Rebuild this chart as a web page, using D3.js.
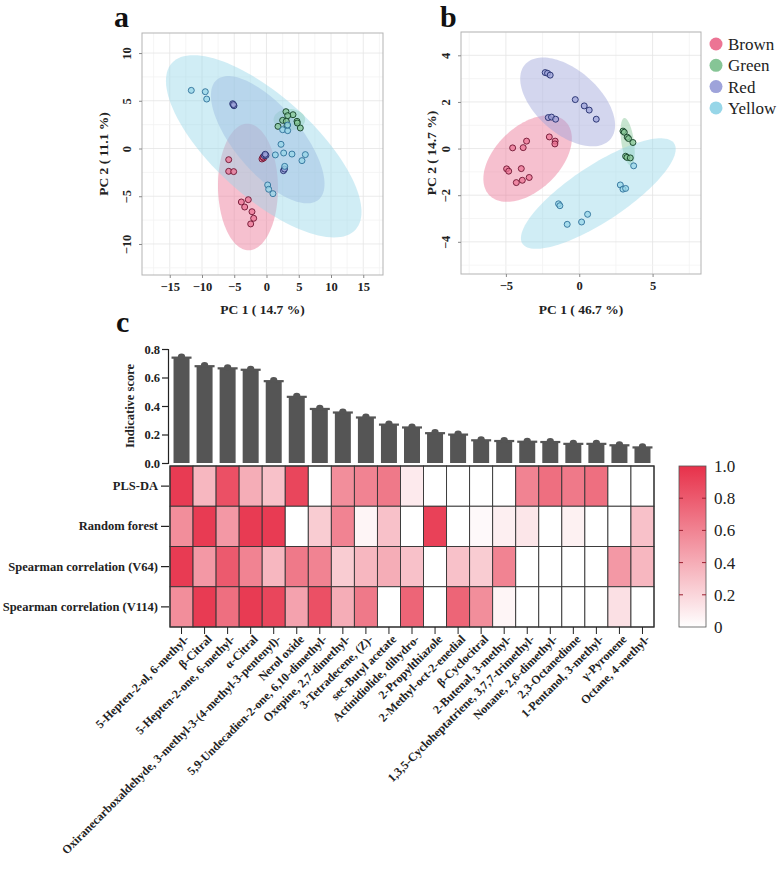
<!DOCTYPE html>
<html>
<head>
<meta charset="utf-8">
<script src="https://d3js.org/d3.v7.min.js"></script>
<style>
  body { margin: 0; background: #fff; }
  svg text { font-family: "Liberation Serif", "DejaVu Serif", serif; }
</style>
</head>
<body>
<div id="chart"></div>
<script>
// ---- data ----
const groups = ["Brown", "Green", "Red", "Yellow"];
const groupFill = ["#ec7494", "#86c596", "#9ea3da", "#97d6e8"];
const groupStroke = ["#6e1330", "#103d22", "#1f2a6b", "#2c6f98"];

// panel a: PCA scores [PC1, PC2]
const aBrown = [[-5.86,-1.17],[-5.86,-2.39],[-5.09,-2.42],[-3.9,-5.6],[-2.82,-5.36],[-3.38,-6.13],[-2.25,-6.62],[-1.99,-7.31],[-2.45,-7.9],[-0.7,-1.1],[-0.44,-1.0],[-0.55,-0.9]];
const aGreen = [[3.02,3.86],[4.11,3.54],[3.28,3.44],[2.5,2.95],[3.07,2.85],[4.73,2.85],[4.78,2.67],[5.24,2.15],[1.78,2.32],[3.18,2.4]];
const aRed = [[-5.24,4.69],[-5.04,4.48],[-5.12,4.6],[-0.34,-0.75],[-0.08,-0.72],[-0.2,-0.6],[2.63,-2.32],[2.79,-2.15]];
const aYellow = [[-11.66,6.09],[-9.49,5.95],[-9.27,5.18],[2.25,0.44],[2.66,-0.47],[3.95,-0.58],[6.02,-0.64],[5.5,-1.27],[1.37,-0.67],[2.82,-1.87],[0.18,-3.82],[0.34,-4.27],[1.0,-4.73],[2.5,1.97],[3.28,1.87],[3.28,2.46]];
// ellipse: centre, two conjugate semi-axes (data units)
const aEllipses = [
  {c: [-2.87,-4.03], u: [0.1,-6.63], v: [4.65,0]},
  {c: [3.54,3.02], u: [2.45,0], v: [0,-1.12]},
  {c: [0.19,0.92], u: [7.89,-6.28], v: [-3.91,-2.24]},
  {c: [-0.43,0.23], u: [14.23,-8.73], v: [-5.22,-3.87]}
];

// panel b
const bBrown = [[-3.59,0.32],[-4.54,0.03],[-3.82,0.04],[-2.04,0.5],[-1.64,0.32],[-1.66,0.2],[-4.95,-0.87],[-4.81,-0.97],[-3.95,-0.86],[-4.29,-1.46],[-3.88,-1.36],[-3.41,-1.24]];
const bGreen = [[2.98,0.75],[3.07,0.7],[3.27,0.49],[3.36,0.43],[3.66,0.26],[3.16,-0.33],[3.25,-0.38],[3.48,-0.4]];
const bRed = [[-2.32,3.26],[-2.16,3.23],[-1.98,3.15],[-0.27,2.1],[0.34,1.83],[0.68,1.65],[1.16,1.26],[-2.11,1.33],[-1.89,1.35],[-1.61,1.26]];
const bYellow = [[3.71,-0.74],[2.8,-1.56],[2.98,-1.74],[3.16,-1.71],[-1.41,-2.37],[-1.32,-2.45],[0.57,-2.82],[0.16,-3.15],[-0.82,-3.25]];
const bEllipses = [
  {c: [-3.52,-0.43], u: [2.61,1.57], v: [1.51,-0.99]},
  {c: [3.3,0.29], u: [0.23,-1.02], v: [0.425,0.038]},
  {c: [-0.79,2.0], u: [2.9,-1.61], v: [-1.43,-1.02]},
  {c: [1.3,-1.93], u: [5.17,2.15], v: [1.05,-1.0]}
];

// panel c
const compounds = ["5-Hepten-2-ol, 6-methyl-", "β-Citral", "5-Hepten-2-one, 6-methyl-", "α-Citral",
  "Oxiranecarboxaldehyde, 3-methyl-3-(4-methyl-3-pentenyl)-", "Nerol oxide",
  "5,9-Undecadien-2-one, 6,10-dimethyl-", "Oxepine, 2,7-dimethyl-", "3-Tetradecene, (Z)-",
  "sec-Butyl acetate", "Actinidiolide, dihydro-", "2-Propylthiazole", "2-Methyl-oct-2-enedial",
  "β-Cyclocitral", "2-Butenal, 3-methyl-", "1,3,5-Cycloheptatriene, 3,7,7-trimethyl-",
  "Nonane, 2,6-dimethyl-", "2,3-Octanedione", "1-Pentanol, 3-methyl-", "γ-Pyronene", "Octane, 4-methyl-"];
const indicativeScore = [0.74,0.68,0.665,0.655,0.575,0.465,0.38,0.355,0.32,0.27,0.25,0.21,0.2,0.16,0.155,0.15,0.148,0.135,0.135,0.125,0.11];
const methods = ["PLS-DA", "Random forest", "Spearman correlation (V64)", "Spearman correlation (V114)"];
const plsda        = [0.95,0.35,0.85,0.4,0.3,0.9,0,0.55,0.6,0.65,0.1,0,0,0,0,0.6,0.7,0.65,0.7,0,0];
const randomForest = [0.55,0.95,0.5,0.95,0.95,0,0.25,0.6,0.05,0.3,0,0.92,0,0.03,0.08,0.12,0,0.07,0,0,0.3];
const spearmanV64  = [0.95,0.5,0.8,0.6,0.35,0.65,0.6,0.25,0.35,0.4,0.3,0,0.3,0.25,0.6,0,0,0,0,0.5,0.35];
const spearmanV114 = [0.55,0.95,0.7,0.95,0.9,0.45,0.85,0.4,0.65,0,0.75,0,0.75,0.55,0.05,0,0,0,0,0.15,0];
const scoreTicks = [0, 0.2, 0.4, 0.6, 0.8];
const colorTicks = [0, 0.2, 0.4, 0.6, 0.8, 1.0];

// ---- drawing ----
const svg = d3.select("#chart").append("svg")
  .attr("width", 779).attr("height", 876);

function pcaPanel(opt) {
  const x = d3.scaleLinear().domain(opt.xDomain).range(opt.xRange);
  const y = d3.scaleLinear().domain(opt.yDomain).range(opt.yRange);
  const g = svg.append("g");

  // grid
  g.selectAll(".gx").data(opt.xMinor).enter().append("line")
    .attr("x1", d => x(d)).attr("x2", d => x(d))
    .attr("y1", opt.yRange[0]).attr("y2", opt.yRange[1])
    .attr("stroke", d => opt.xTicks.includes(d) ? "#e4e4e4" : "#f3f3f3").attr("stroke-width", 0.8);
  g.selectAll(".gy").data(opt.yMinor).enter().append("line")
    .attr("y1", d => y(d)).attr("y2", d => y(d))
    .attr("x1", opt.xRange[0]).attr("x2", opt.xRange[1])
    .attr("stroke", d => opt.yTicks.includes(d) ? "#e4e4e4" : "#f3f3f3").attr("stroke-width", 0.8);

  // ellipses
  const ts = d3.range(0, 2 * Math.PI, Math.PI / 60);
  const line = d3.line().curve(d3.curveLinearClosed);
  opt.ellipses.forEach((e, i) => {
    const pts = ts.map(t => [
      x(e.c[0] + Math.cos(t) * e.u[0] + Math.sin(t) * e.v[0]),
      y(e.c[1] + Math.cos(t) * e.u[1] + Math.sin(t) * e.v[1])
    ]);
    g.append("path").attr("d", line(pts))
      .attr("fill", groupFill[i]).attr("fill-opacity", 0.45).attr("stroke", "none");
  });

  // points
  opt.points.forEach((pts, i) => {
    g.selectAll(null).data(pts).enter().append("circle")
      .attr("cx", d => x(d[0])).attr("cy", d => y(d[1])).attr("r", 3)
      .attr("fill", groupFill[i]).attr("fill-opacity", 0.75)
      .attr("stroke", groupStroke[i]).attr("stroke-width", 0.9);
  });

  // frame
  g.append("rect")
    .attr("x", opt.xRange[0]).attr("y", opt.yRange[1])
    .attr("width", opt.xRange[1] - opt.xRange[0]).attr("height", opt.yRange[0] - opt.yRange[1])
    .attr("fill", "none").attr("stroke", "#b3b3b3").attr("stroke-width", 1);

  // axes
  const xAxis = g.append("g").attr("transform", `translate(0,${opt.yRange[0]})`)
    .call(d3.axisBottom(x).tickValues(opt.xTicks).tickSize(3).tickPadding(4).tickFormat(d3.format("d")));
  const yAxis = g.append("g").attr("transform", `translate(${opt.xRange[0]},0)`)
    .call(d3.axisLeft(y).tickValues(opt.yTicks).tickSize(3).tickPadding(4).tickFormat(d3.format("d")));
  [xAxis, yAxis].forEach(a => {
    a.select(".domain").remove();
    a.selectAll(".tick line").attr("stroke", "#888");
    a.selectAll("text").attr("font-size", 12.5).attr("font-weight", "bold").attr("fill", "#222")
      .style("font-family", "Liberation Serif");
  });
  yAxis.selectAll(".tick text")
    .attr("transform", function () {
      const yy = d3.select(this.parentNode).attr("transform");
      return "rotate(-90)";
    })
    .attr("x", 0).attr("y", -11).attr("dy", 0).attr("text-anchor", "middle");

  // titles
  const cx = (opt.xRange[0] + opt.xRange[1]) / 2;
  g.append("text").attr("x", cx).attr("y", 314).attr("text-anchor", "middle")
    .attr("font-size", 13.5).attr("font-weight", "bold").attr("fill", "#222").text(opt.xTitle);
  const cy = (opt.yRange[0] + opt.yRange[1]) / 2;
  g.append("text").attr("transform", `translate(${opt.yTitleX},${cy}) rotate(-90)`)
    .attr("text-anchor", "middle").attr("font-size", 13.5).attr("font-weight", "bold")
    .attr("fill", "#222").text(opt.yTitle);
  g.append("text").attr("x", opt.letterX).attr("y", 27)
    .attr("font-size", 30).attr("font-weight", "bold").attr("fill", "#111").text(opt.letter);
}

pcaPanel({
  xDomain: [-19.3, 18.06], xRange: [142, 383],
  yDomain: [-13.25, 12.1], yRange: [275, 33],
  xTicks: [-15, -10, -5, 0, 5, 10, 15], xMinor: d3.range(-17.5, 18, 2.5),
  yTicks: [-10, -5, 0, 5, 10], yMinor: d3.range(-12.5, 12.1, 2.5),
  ellipses: aEllipses, points: [aBrown, aGreen, aRed, aYellow],
  xTitle: "PC 1 ( 14.7 %)", yTitle: "PC 2 ( 11.1 %)", yTitleX: 108,
  letter: "a", letterX: 114
});
pcaPanel({
  xDomain: [-8.06, 8.3], xRange: [461, 701],
  yDomain: [-5.38, 5.0], yRange: [274, 32],
  xTicks: [-5, 0, 5], xMinor: d3.range(-7.5, 8.3, 2.5),
  yTicks: [-4, -2, 0, 2, 4], yMinor: d3.range(-5, 5.01, 1),
  ellipses: bEllipses, points: [bBrown, bGreen, bRed, bYellow],
  xTitle: "PC 1 ( 46.7 %)", yTitle: "PC 2 ( 14.7 %)", yTitleX: 436,
  letter: "b", letterX: 440
});

// legend
const legend = svg.append("g");
groups.forEach((gname, i) => {
  legend.append("circle").attr("cx", 716).attr("cy", 44 + i * 21.3).attr("r", 6.5)
    .attr("fill", groupFill[i]);
  legend.append("text").attr("x", 728).attr("y", 44 + i * 21.3).attr("dy", "0.35em")
    .attr("font-size", 17).attr("fill", "#222").text(gname);
});

// ---- panel c ----
const x = d3.scaleBand().domain(compounds).range([170, 654]);
const yBar = d3.scaleLinear().domain([0, 0.8]).range([463, 349]);
const yRow = d3.scaleBand().domain(methods).range([466, 627]);
const color = d3.scaleLinear().domain([0, 1]).range(["#ffffff", "#e7314a"]);

svg.append("text").attr("x", 116).attr("y", 332)
  .attr("font-size", 30).attr("font-weight", "bold").attr("fill", "#111").text("c");

// bars
const bw = 16;
const bars = svg.append("g");
compounds.forEach((c, i) => {
  const cx = x(c) + x.bandwidth() / 2;
  const top = yBar(indicativeScore[i]);
  bars.append("rect").attr("x", cx - bw / 2).attr("y", top).attr("width", bw)
    .attr("height", yBar(0) - top).attr("fill", "#555");
  bars.append("rect").attr("x", cx - bw / 2 - 2).attr("y", top - 1).attr("width", bw + 4)
    .attr("height", 2.2).attr("fill", "#555");
  bars.append("ellipse").attr("cx", cx).attr("cy", top - 1).attr("rx", 3.6).attr("ry", 3)
    .attr("fill", "#555");
});

const barAxis = svg.append("g").attr("transform", "translate(168,0)")
  .call(d3.axisLeft(yBar).tickValues(scoreTicks).tickSize(6).tickPadding(2).tickFormat(d3.format(".1f")));
barAxis.select(".domain").attr("stroke", "#222").attr("stroke-width", 1.2);
barAxis.selectAll(".tick line").attr("stroke", "#222").attr("stroke-width", 1.2);
barAxis.selectAll("text").attr("font-size", 12.5).attr("font-weight", "bold").attr("fill", "#222")
  .style("font-family", "Liberation Serif");
svg.append("text").attr("transform", "translate(134,406) rotate(-90)")
  .attr("text-anchor", "middle").attr("font-size", 12.5).attr("font-weight", "bold")
  .attr("fill", "#222").text("Indicative score");

// heatmap
const heatRows = [plsda, randomForest, spearmanV64, spearmanV114];
const heat = svg.append("g");
heatRows.forEach((row, r) => {
  heat.selectAll(null).data(row).enter().append("rect")
    .attr("x", (d, i) => x(compounds[i])).attr("y", yRow(methods[r]))
    .attr("width", x.bandwidth()).attr("height", yRow.bandwidth())
    .attr("fill", d => color(d)).attr("stroke", "#333").attr("stroke-width", 0.9);
});
heat.append("rect").attr("x", 170).attr("y", 466).attr("width", 484).attr("height", 161)
  .attr("fill", "none").attr("stroke", "#333").attr("stroke-width", 1.2);

const rowAxis = svg.append("g").attr("transform", "translate(169,0)")
  .call(d3.axisLeft(yRow).tickSize(8).tickPadding(3));
rowAxis.select(".domain").remove();
rowAxis.selectAll(".tick line").attr("stroke", "#222").attr("stroke-width", 1.2);
rowAxis.selectAll("text").attr("font-size", 12.5).attr("font-weight", "bold").attr("fill", "#222")
  .style("font-family", "Liberation Serif");

const colAxis = svg.append("g").attr("transform", "translate(0,627)")
  .call(d3.axisBottom(x).tickSize(7).tickPadding(3));
colAxis.select(".domain").remove();
colAxis.selectAll(".tick line").attr("stroke", "#222").attr("stroke-width", 1);
colAxis.selectAll("text").attr("font-size", 12).attr("font-weight", "bold").attr("fill", "#222")
  .style("font-family", "Liberation Serif")
  .attr("text-anchor", "end").attr("transform", "translate(5,10) rotate(-45)")
  .attr("x", 0).attr("y", 0).attr("dy", "0.35em");

// colour bar
const defs = svg.append("defs");
const grad = defs.append("linearGradient").attr("id", "cbar")
  .attr("x1", 0).attr("y1", 1).attr("x2", 0).attr("y2", 0);
grad.append("stop").attr("offset", "0%").attr("stop-color", color(0));
grad.append("stop").attr("offset", "100%").attr("stop-color", color(1));
const yCbar = d3.scaleLinear().domain([0, 1]).range([627, 466]);
svg.append("rect").attr("x", 679).attr("y", 466).attr("width", 27).attr("height", 161)
  .attr("fill", "url(#cbar)").attr("stroke", "#555").attr("stroke-width", 0.8);
const cb = svg.append("g");
cb.selectAll(".l").data(colorTicks.slice(1, -1)).enter().append("line")
  .attr("x1", 679).attr("x2", 683).attr("y1", d => yCbar(d)).attr("y2", d => yCbar(d))
  .attr("stroke", "#9a1f30").attr("stroke-width", 1);
cb.selectAll(".r").data(colorTicks.slice(1, -1)).enter().append("line")
  .attr("x1", 702).attr("x2", 706).attr("y1", d => yCbar(d)).attr("y2", d => yCbar(d))
  .attr("stroke", "#9a1f30").attr("stroke-width", 1);
cb.selectAll("text").data(colorTicks).enter().append("text")
  .attr("x", 714).attr("y", d => yCbar(d)).attr("dy", "0.35em")
  .attr("font-size", 17).attr("fill", "#222")
  .text(d => d === 0 ? "0" : d3.format(".1f")(d));
</script>
</body>
</html>
